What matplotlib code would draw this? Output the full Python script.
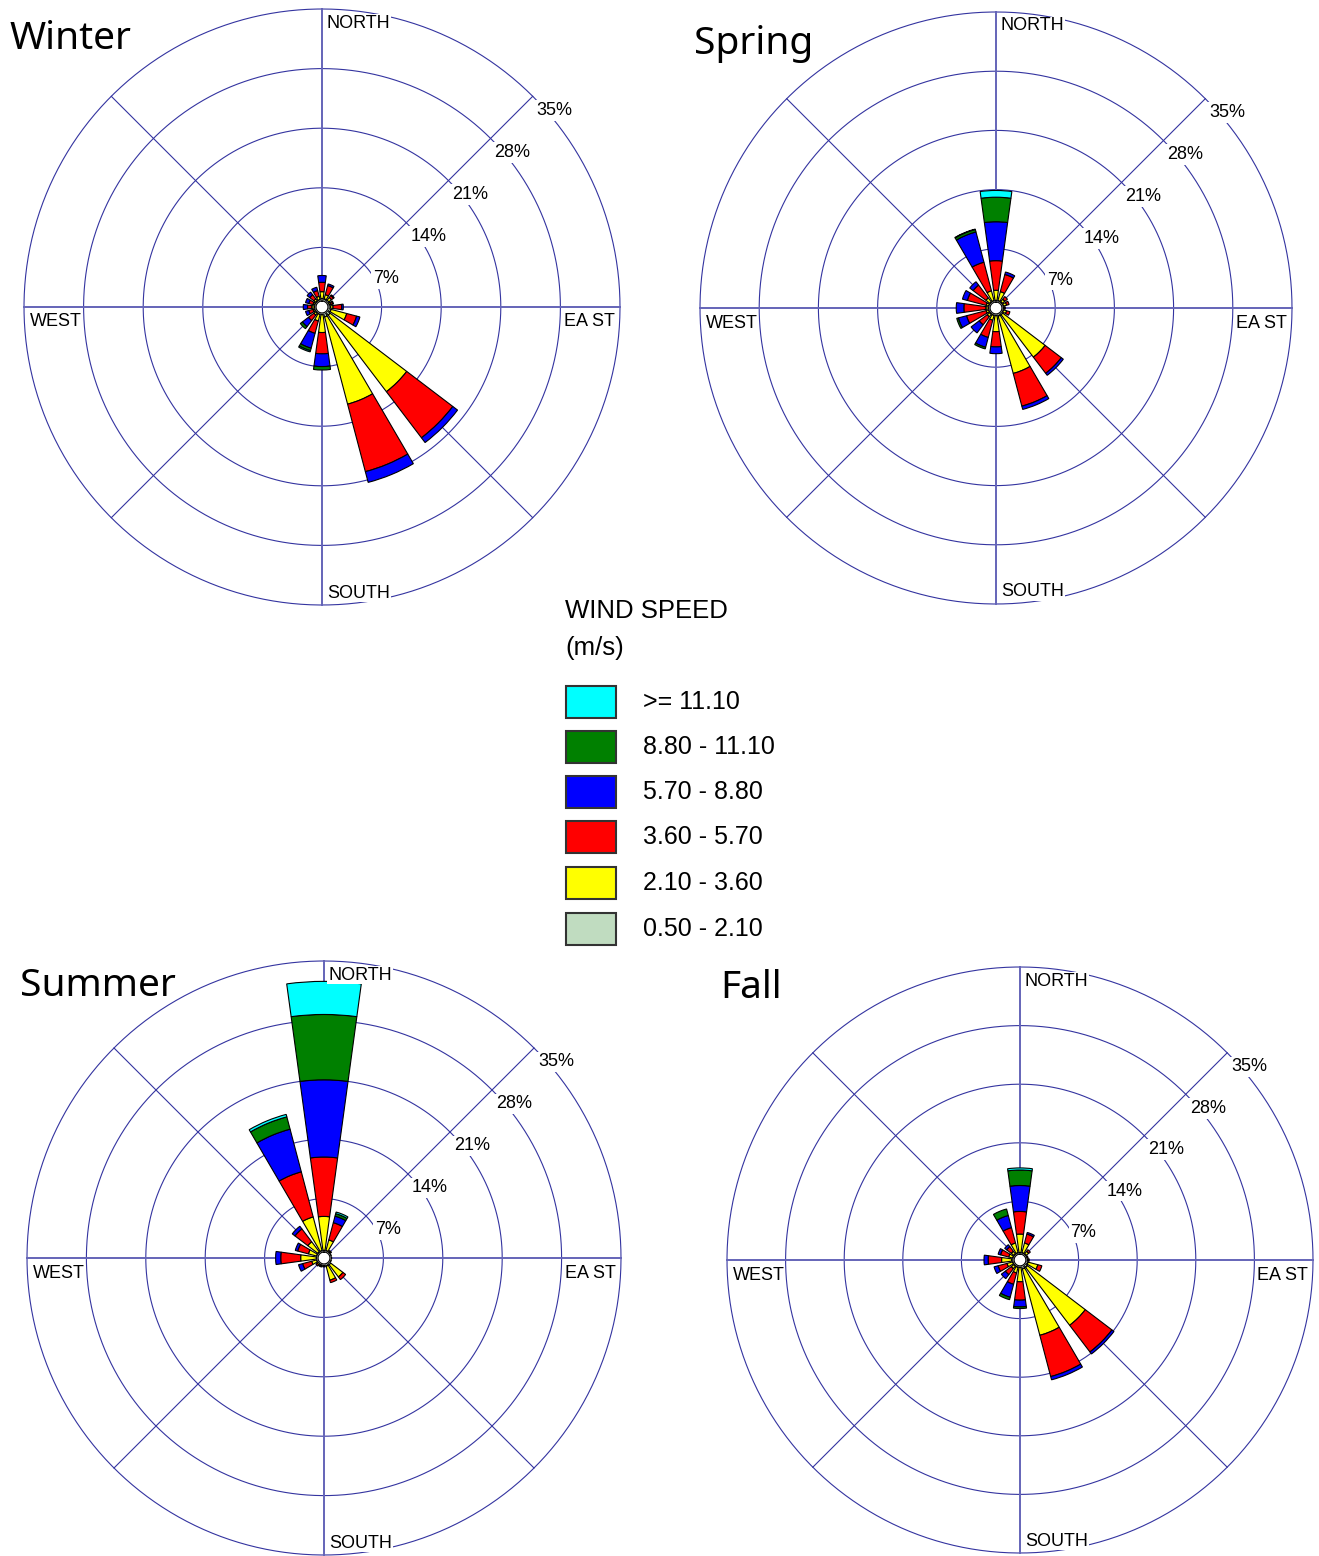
import numpy as np
import matplotlib
matplotlib.use("Agg")
import matplotlib.pyplot as plt

plt.rcParams['font.family'] = ['Liberation Sans', 'DejaVu Sans']

W, H = 1319, 1556

directions = ['N', 'NNE', 'NE', 'ENE', 'E', 'ESE', 'SE', 'SSE',
              'S', 'SSW', 'SW', 'WSW', 'W', 'WNW', 'NW', 'NNW']
speed_bins = ['0.50 - 2.10', '2.10 - 3.60', '3.60 - 5.70',
              '5.70 - 8.80', '8.80 - 11.10', '>= 11.10']
bin_colors = ['#c0dcc0', '#ffff00', '#ff0000', '#0000ff', '#008000', '#00ffff']
rings = [7, 14, 21, 28, 35]

# frequency (%) per speed bin (rows) and direction (columns, N clockwise)
winter = [
    [0.3, 0.3, 0.3, 0.2, 0.3, 0.4, 0.5, 0.5, 0.2, 0.2, 0.2, 0.2, 0.2, 0.2, 0.2, 0.2],
    [0.8, 0.5, 0.4, 0.2, 0.3, 1.9, 11.3, 10.6, 2.1, 0.8, 0.3, 0.2, 0.3, 0.2, 0.3, 0.4],
    [1.1, 1.1, 0.3, 0.2, 1.0, 1.2, 6.8, 8.2, 2.5, 1.5, 0.8, 0.5, 0.5, 0.5, 0.6, 0.7],
    [0.8, 0.2, 0.1, 0.1, 0.2, 0.4, 0.7, 1.3, 1.5, 1.8, 0.9, 0.4, 0.5, 0.4, 0.4, 0.4],
    [0.0, 0.0, 0.0, 0.0, 0.0, 0.0, 0.0, 0.0, 0.4, 0.3, 0.3, 0.0, 0.0, 0.0, 0.0, 0.0],
    [0.0, 0.0, 0.0, 0.0, 0.0, 0.0, 0.0, 0.0, 0.0, 0.15, 0.0, 0.0, 0.0, 0.0, 0.0, 0.0],
]
spring = [
    [0.2, 0.2, 0.2, 0.2, 0.2, 0.2, 0.3, 0.3, 0.2, 0.2, 0.2, 0.2, 0.2, 0.2, 0.2, 0.2],
    [1.2, 1.1, 0.4, 0.4, 0.1, 0.4, 6.3, 7.0, 1.9, 0.6, 0.4, 0.3, 0.3, 0.3, 0.6, 1.2],
    [3.5, 2.1, 0.4, 0.3, 0.1, 0.4, 2.4, 4.0, 1.8, 2.1, 1.2, 2.4, 2.6, 2.3, 1.9, 3.5],
    [4.6, 0.3, 0.0, 0.0, 0.0, 0.0, 0.3, 0.4, 0.8, 1.2, 1.2, 1.0, 0.9, 0.6, 0.5, 3.7],
    [2.9, 0.0, 0.0, 0.0, 0.0, 0.0, 0.0, 0.0, 0.0, 0.2, 0.0, 0.2, 0.0, 0.0, 0.0, 0.3],
    [0.8, 0.0, 0.0, 0.0, 0.0, 0.0, 0.0, 0.0, 0.0, 0.0, 0.0, 0.0, 0.0, 0.0, 0.0, 0.05],
]
summer = [
    [0.2, 0.2, 0.2, 0.1, 0.1, 0.1, 0.3, 0.3, 0.1, 0.1, 0.1, 0.2, 0.2, 0.2, 0.2, 0.2],
    [4.0, 1.3, 0.1, 0.1, 0.1, 0.1, 1.8, 1.7, 0.1, 0.1, 0.2, 0.6, 1.85, 1.0, 1.5, 4.1],
    [7.0, 2.1, 0.1, 0.0, 0.0, 0.0, 0.4, 0.3, 0.1, 0.1, 0.2, 1.1, 2.35, 1.3, 1.9, 5.5],
    [9.1, 0.8, 0.0, 0.0, 0.0, 0.0, 0.0, 0.0, 0.05, 0.1, 0.0, 0.5, 0.6, 0.3, 0.4, 5.2],
    [7.7, 0.3, 0.0, 0.0, 0.0, 0.0, 0.0, 0.0, 0.0, 0.0, 0.0, 0.0, 0.0, 0.0, 0.0, 1.5],
    [3.9, 0.2, 0.0, 0.0, 0.0, 0.0, 0.0, 0.0, 0.0, 0.0, 0.0, 0.0, 0.0, 0.0, 0.0, 0.3],
]
fall = [
    [0.2, 0.2, 0.2, 0.1, 0.2, 0.3, 0.4, 0.4, 0.2, 0.2, 0.2, 0.2, 0.3, 0.2, 0.2, 0.2],
    [2.2, 1.2, 0.4, 0.1, 0.1, 1.2, 8.7, 8.2, 1.7, 0.7, 0.4, 0.7, 1.2, 0.5, 0.4, 1.2],
    [2.7, 1.1, 0.25, 0.1, 0.1, 0.5, 4.0, 5.1, 2.2, 1.4, 0.9, 1.1, 1.6, 1.0, 0.7, 1.9],
    [3.1, 0.2, 0.0, 0.0, 0.0, 0.0, 0.3, 0.4, 0.8, 1.6, 0.6, 0.5, 0.5, 0.3, 0.3, 1.5],
    [1.85, 0.0, 0.0, 0.0, 0.0, 0.0, 0.0, 0.0, 0.2, 0.3, 0.0, 0.0, 0.0, 0.0, 0.0, 0.8],
    [0.25, 0.0, 0.0, 0.0, 0.0, 0.0, 0.0, 0.0, 0.0, 0.0, 0.0, 0.0, 0.0, 0.0, 0.0, 0.0],
]

HOLE = 0.7  # calm circle radius in %
RING_COLOR = '#3434a0'
AXIS_COLOR = '#6464b8'


def add_rose(fig, cx, cy, r, freq, title, title_xy):
    ax = fig.add_axes([(cx - r) / W, (H - cy - r) / H, 2 * r / W, 2 * r / H],
                      projection='polar')
    ax.set_theta_zero_location('N')
    ax.set_theta_direction(-1)
    ax.set_ylim(0, 35)
    ax.set_xticks([])
    ax.set_yticks([])
    ax.grid(False)
    ax.spines['polar'].set_visible(False)
    ax.patch.set_alpha(0)

    # rings and spokes
    th = np.linspace(0, 2 * np.pi, 400)
    for rr in rings:
        ax.plot(th, np.full_like(th, rr), color=RING_COLOR, lw=0.8,
                zorder=1, clip_on=False)
    for k in range(8):
        a = np.deg2rad(k * 45)
        main = k % 2 == 0
        ax.plot([a, a], [0, 35], color=AXIS_COLOR if main else RING_COLOR,
                lw=1.4 if main else 0.8, zorder=1, clip_on=False)

    # stacked bars
    theta = np.deg2rad(np.arange(16) * 22.5)
    base = np.full(16, HOLE)
    for vals, col in zip(freq, bin_colors):
        vals = np.array(vals)
        m = vals > 0
        ax.bar(theta[m], vals[m], width=np.deg2rad(15.5), bottom=base[m],
               color=col, edgecolor='black', linewidth=0.8, zorder=3)
        base = base + vals

    # calm circle
    ax.fill(th, np.full_like(th, HOLE), color='white', zorder=4)
    ax.plot(th, np.full_like(th, HOLE), color='black', lw=0.8, zorder=4)

    # ring labels
    for rr in rings:
        ax.annotate(f'{rr}%', xy=(np.pi / 4, rr), xytext=(22, -14),
                    textcoords='offset pixels', ha='center', va='center',
                    fontsize=13, zorder=5,
                    bbox=dict(boxstyle='square,pad=0.1', fc='white', ec='none'))

    wb = dict(boxstyle='square,pad=0.05', fc='white', ec='none')
    ax.annotate('NORTH', xy=(0, 35), xytext=(4, -14), textcoords='offset pixels',
                ha='left', va='center', fontsize=13, zorder=5, bbox=wb,
                annotation_clip=False)
    ax.annotate('SOUTH', xy=(np.pi, 35), xytext=(5, 12), textcoords='offset pixels',
                ha='left', va='center', fontsize=13, zorder=5, bbox=wb,
                annotation_clip=False)
    ax.annotate('WEST', xy=(1.5 * np.pi, 35), xytext=(6, -15),
                textcoords='offset pixels', ha='left', va='center', fontsize=13,
                zorder=5, annotation_clip=False)
    ax.annotate('EA ST', xy=(0.5 * np.pi, 35), xytext=(-5, -15),
                textcoords='offset pixels', ha='right', va='center', fontsize=13,
                zorder=5, annotation_clip=False)

    fig.text(title_xy[0] / W, 1 - title_xy[1] / H, title, fontsize=28,
             family=['Noto Sans', 'DejaVu Sans'], ha='left', va='baseline')
    return ax


fig = plt.figure(figsize=(W / 100, H / 100), dpi=100)

add_rose(fig, 322, 307, 298, winter, 'Winter', (10, 49))
add_rose(fig, 996, 308, 296, spring, 'Spring', (694, 54))
add_rose(fig, 324, 1258, 297, summer, 'Summer', (20, 996))
add_rose(fig, 1020, 1260, 293, fall, 'Fall', (720, 998))

# legend
fig.text(565 / W, 1 - 611 / H, 'WIND SPEED', fontsize=18.5, ha='left', va='center')
fig.text(565 / W, 1 - 648 / H, '(m/s)', fontsize=18.5, ha='left', va='center')
box_y = [702, 747, 792, 837, 883, 929]
for yc, lab, col in zip(box_y, speed_bins[::-1], bin_colors[::-1]):
    fig.patches.append(plt.Rectangle((566 / W, 1 - (yc + 16) / H), 50 / W, 32 / H,
                                     transform=fig.transFigure, fc=col,
                                     ec='#333333', lw=1.5))
    fig.text(643 / W, 1 - yc / H, lab, fontsize=18, ha='left', va='center')

fig.savefig('out.png', dpi=100)
